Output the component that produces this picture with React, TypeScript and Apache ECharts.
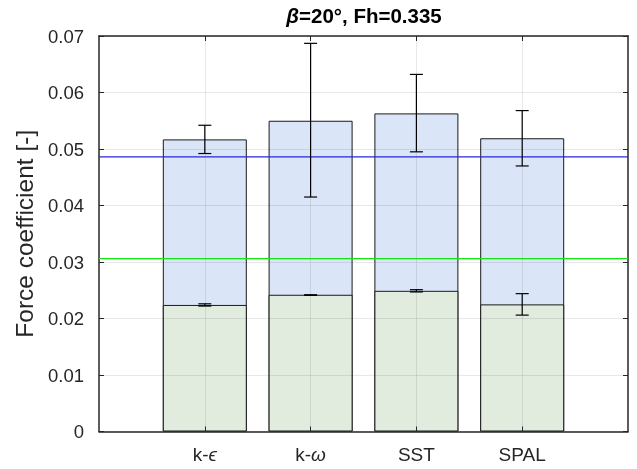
import React, { useEffect, useRef } from "react";
import * as echarts from "echarts";

const categories = ["k-ϵ", "k-ω", "SST", "SPAL"];
const categoryPos = [1, 2, 3, 4];
const totalValues = [0.0517, 0.055, 0.0563, 0.0519];
const totalErrLow = [0.0492, 0.0415, 0.0495, 0.047];
const totalErrHigh = [0.0542, 0.0687, 0.0632, 0.0568];
const baseValues = [0.0224, 0.0242, 0.0249, 0.0225];
const baseErrLow = [0.0222, 0.0241, 0.0247, 0.0206];
const baseErrHigh = [0.0226, 0.0242, 0.0251, 0.0244];
const blueRef = 0.0486;
const greenRef = 0.0306;
const yTicks = [0, 0.01, 0.02, 0.03, 0.04, 0.05, 0.06, 0.07];

const FONT = "'Liberation Sans', Arial, Helvetica, sans-serif";

export default function App() {
  const ref = useRef<HTMLDivElement>(null);
  useEffect(() => {
    const chart = echarts.init(ref.current!, null, { renderer: "svg" });
    const errItem = (params: any, api: any) => {
      const x = api.value(0);
      const lo = api.coord([x, api.value(1)]);
      const hi = api.coord([x, api.value(2)]);
      const hw = 6.5;
      const style = { stroke: "#000", lineWidth: 1.2 };
      return {
        type: "group",
        children: [
          { type: "line", shape: { x1: lo[0], y1: lo[1], x2: hi[0], y2: hi[1] }, style },
          { type: "line", shape: { x1: lo[0] - hw, y1: lo[1], x2: lo[0] + hw, y2: lo[1] }, style },
          { type: "line", shape: { x1: hi[0] - hw, y1: hi[1], x2: hi[0] + hw, y2: hi[1] }, style },
        ],
      };
    };
    const labelMap: Record<number, string> = {};
    categoryPos.forEach((p, i) => {
      const c = categories[i];
      labelMap[p] = c.startsWith("k-") ? "k-{i|" + c.slice(2) + "}" : c;
    });
    const axisLine = { show: true, onZero: false, lineStyle: { color: "#262626", width: 1.5 } };
    const xTick = {
      show: true,
      inside: true,
      length: 5,
      customValues: categoryPos,
      lineStyle: { color: "#262626", width: 1 },
    };
    const yTick = { show: true, inside: true, length: 5, lineStyle: { color: "#262626", width: 1 } };
    const titleStyle = { fontFamily: FONT, fontSize: 20.5, fontWeight: "bold", color: "#000" };
    const option: any = {
      animation: false,
      title: {
        text: "{i|β}{n|=20°, Fh=0.335}",
        left: 359,
        textAlign: "center",
        top: 0,
        textStyle: {
          ...titleStyle,
          rich: { i: { ...titleStyle, fontStyle: "italic" }, n: { ...titleStyle } },
        },
      },
      grid: { left: 99, right: 9, top: 36, bottom: 37.5, containLabel: false },
      xAxis: [
        {
          type: "value",
          min: 0,
          max: 5,
          interval: 1,
          z: 10,
          axisLine,
          axisTick: xTick,
          splitLine: { show: true, lineStyle: { color: "rgba(0,0,0,0.09)", width: 1 } },
          axisLabel: {
            margin: 13,
            fontFamily: FONT,
            fontSize: 19,
            color: "#262626",
            formatter: (v: number) => labelMap[v] || "",
            rich: { i: { fontFamily: FONT, fontSize: 19, fontStyle: "italic", color: "#262626" } },
          },
        },
        {
          type: "value",
          position: "top",
          min: 0,
          max: 5,
          interval: 1,
          z: 10,
          axisLine,
          axisTick: xTick,
          splitLine: { show: false },
          axisLabel: { show: false },
        },
      ],
      yAxis: [
        {
          type: "value",
          min: 0,
          max: 0.07,
          interval: 0.01,
          z: 10,
          name: "Force coefficient [-]",
          nameLocation: "middle",
          nameGap: 61,
          nameTextStyle: { fontFamily: FONT, fontSize: 24.5, color: "#262626" },
          axisLine,
          axisTick: yTick,
          splitLine: { show: true, lineStyle: { color: "rgba(0,0,0,0.09)", width: 1 } },
          axisLabel: {
            margin: 15,
            fontFamily: FONT,
            fontSize: 18.5,
            color: "#262626",
            formatter: (v: number) => {
              const t = yTicks.find((y) => Math.abs(y - v) < 1e-9);
              return t === 0 ? "0" : t !== undefined ? t.toFixed(2) : "";
            },
          },
        },
        {
          type: "value",
          position: "right",
          min: 0,
          max: 0.07,
          interval: 0.01,
          z: 10,
          axisLine,
          axisTick: yTick,
          splitLine: { show: false },
          axisLabel: { show: false },
        },
      ],
      series: [
        {
          type: "bar",
          xAxisIndex: 0,
          yAxisIndex: 0,
          barWidth: 84,
          barGap: "-100%",
          z: 2,
          data: categoryPos.map((x, i) => [x, totalValues[i]]),
          itemStyle: { color: "#dae6f7", borderColor: "#1a1a1a", borderWidth: 1 },
        },
        {
          type: "bar",
          xAxisIndex: 0,
          yAxisIndex: 0,
          barWidth: 84,
          barGap: "-100%",
          z: 3,
          data: categoryPos.map((x, i) => [x, baseValues[i]]),
          itemStyle: { color: "#e1ecdf", borderColor: "#1a1a1a", borderWidth: 1 },
        },
        {
          type: "line",
          xAxisIndex: 0,
          yAxisIndex: 0,
          z: 11,
          symbol: "none",
          silent: true,
          data: [[0, blueRef], [5, blueRef]],
          lineStyle: { color: "#2626dc", width: 1.2 },
        },
        {
          type: "line",
          xAxisIndex: 0,
          yAxisIndex: 0,
          z: 11,
          symbol: "none",
          silent: true,
          data: [[0, greenRef], [5, greenRef]],
          lineStyle: { color: "#14e614", width: 1.2 },
        },
        {
          type: "custom",
          xAxisIndex: 0,
          yAxisIndex: 0,
          z: 12,
          renderItem: errItem,
          data: categoryPos.map((x, i) => [x, totalErrLow[i], totalErrHigh[i]]),
        },
        {
          type: "custom",
          xAxisIndex: 0,
          yAxisIndex: 0,
          z: 12,
          renderItem: errItem,
          data: categoryPos.map((x, i) => [x, baseErrLow[i], baseErrHigh[i]]),
        },
      ],
    };
    chart.setOption(option);
    return () => chart.dispose();
  }, []);
  return (
    <div
      ref={ref}
      style={{ position: "fixed", left: 0, top: 0, width: 637, height: 469 }}
    />
  );
}
